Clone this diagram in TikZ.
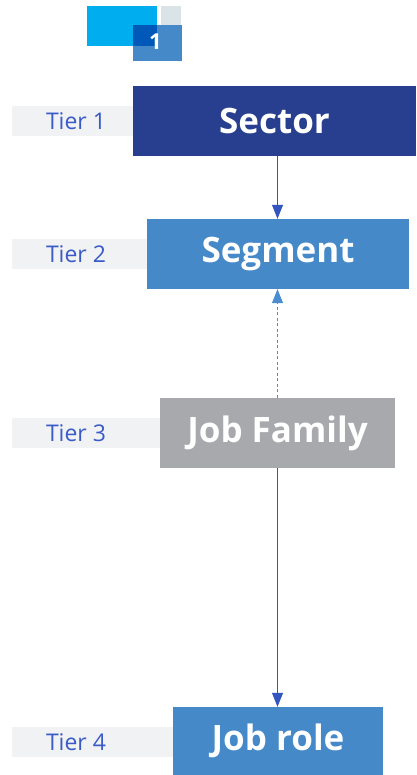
\documentclass[tikz,border=0pt]{standalone}
\usepackage{fontspec}
\setmainfont{Open Sans}
\usetikzlibrary{arrows.meta}

\definecolor{navy}{HTML}{283F8F}
\definecolor{midblue}{HTML}{4589C8}
\definecolor{famgray}{HTML}{A8A9AD}
\definecolor{tierbgc}{HTML}{F1F2F4}
\definecolor{tiertext}{HTML}{3A5BC7}
\definecolor{linkblue}{HTML}{3355C0}
\definecolor{dashblue}{HTML}{4A8ED0}
\definecolor{logocyan}{HTML}{00AEEF}
\definecolor{logogray}{HTML}{DAE3E6}
\definecolor{logodark}{HTML}{0058B8}

\tikzset{
  box/.style={inner sep=0pt, text=white,
    font=\fontsize{35}{41}\selectfont\bfseries},
  tierbg/.style={fill=tierbgc, inner sep=0pt},
  tierlabel/.style={text=tiertext, inner sep=0pt,
    font=\fontsize{23}{27}\selectfont},
  link/.style={draw=linkblue, line width=1pt,
    -{Triangle[length=14pt,width=11pt]}},
  dashlink/.style={draw=dashblue, line width=1pt, dash pattern=on 3pt off 2.5pt,
    -{Triangle[length=14pt,width=11pt]}},
}

\begin{document}
\begin{tikzpicture}[x=1pt,y=-1pt]
\useasboundingbox (0,0) rectangle (416,775);
\fill[white] (0,0) rectangle (416,775);

% logo
\fill[logocyan] (87,6) rectangle (157,46);
\fill[logogray] (161,6) rectangle (181,25);
\fill[midblue] (133,25) rectangle (182,61);
\fill[logodark] (133,25) rectangle (157,46);
\node[text=white, inner sep=0pt, font=\fontsize{22}{26}\selectfont\bfseries] (logonum) at (155.5,42) {1};

% tier label strips
\node[tierbg, minimum width=121pt, minimum height=30pt] (t1bg) at (72.5,121) {};
\node[tierbg, minimum width=135pt, minimum height=30pt] (t2bg) at (79.5,254) {};
\node[tierbg, minimum width=148pt, minimum height=30pt] (t3bg) at (86,433) {};
\node[tierbg, minimum width=161pt, minimum height=30pt] (t4bg) at (92.5,742) {};

\node[tierlabel] (tier1) at (76,121) {Tier 1};
\node[tierlabel] (tier2) at (76,254) {Tier 2};
\node[tierlabel] (tier3) at (76,433) {Tier 3};
\node[tierlabel] (tier4) at (76,742) {Tier 4};

% hierarchy boxes
\node[box, fill=navy, minimum width=283pt, minimum height=70pt] (sector) at (274.5,121) {Sector};
\node[box, fill=midblue, minimum width=262pt, minimum height=70pt] (segment) at (278,254) {Segment};
\node[box, fill=famgray, minimum width=235pt, minimum height=70pt] (family) at (277.5,433) {Job Family};
\node[box, fill=midblue, minimum width=210pt, minimum height=68pt] (role) at (278,741) {Job role};

% connectors
\draw[link] (sector.south -| 277.5,0) -- (segment.north -| 277.5,0);
\draw[dashlink] (family.north -| 277.5,0) -- (segment.south -| 277.5,0);
\draw[link] (family.south -| 277.5,0) -- (role.north -| 277.5,0);
\end{tikzpicture}
\end{document}
